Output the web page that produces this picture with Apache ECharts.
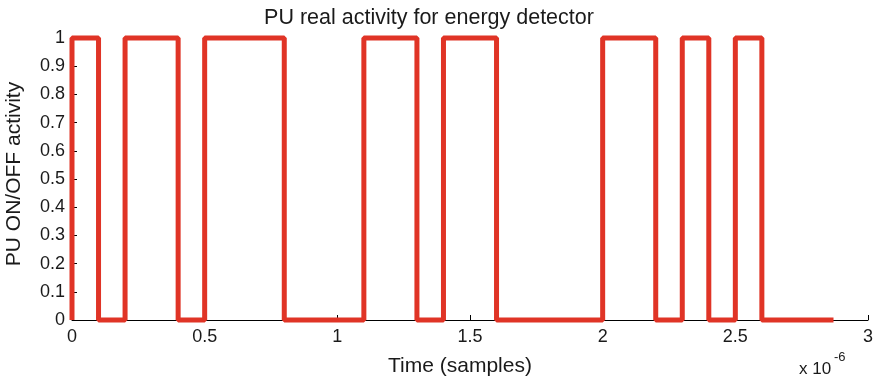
<!DOCTYPE html>
<html><head><meta charset="utf-8">
<script src="https://cdn.jsdelivr.net/npm/echarts@6/dist/echarts.min.js"></script>
<style>html,body{margin:0;padding:0;background:#fff}#c{width:878px;height:384px}</style>
</head><body><div id="c"></div>
<script>
// Times (x 10^-6) where the PU state changes, and the new state
const times = [0, 0, 0.1, 0.2, 0.4, 0.5, 0.8, 1.1, 1.3, 1.4, 1.6, 2.0, 2.2, 2.3, 2.4, 2.5, 2.6, 2.87];
const states = [0, 1, 0, 1, 0, 1, 0, 1, 0, 1, 0, 1, 0, 1, 0, 1, 0, 0];
const xTicks = [0, 0.5, 1, 1.5, 2, 2.5, 3];
const yTicks = [0, 0.1, 0.2, 0.3, 0.4, 0.5, 0.6, 0.7, 0.8, 0.9, 1];

const data = times.map((t, i) => [t, states[i]]);
const font = 'Liberation Sans, Arial, sans-serif';
const txt = '#1a1a1a';
const chart = echarts.init(document.getElementById('c'));
chart.setOption({
  animation: false,
  title: { text: 'PU real activity for energy detector', left: 424, top: 2, textAlign: 'center',
    textStyle: { fontFamily: font, fontSize: 21.5, fontWeight: 'normal', color: txt } },
  grid: { left: 72, right: 10, top: 38, bottom: 64, containLabel: false, outerBoundsMode: 'none' },
  xAxis: { type: 'value', min: 0, max: 3, interval: 0.5,
    name: 'Time (samples)', nameLocation: 'middle', nameGap: 36,
    nameTextStyle: { fontFamily: font, fontSize: 21, color: txt, padding: [0, 20, 0, 0] },
    axisLine: { lineStyle: { color: '#000', width: 1 } },
    axisTick: { inside: true, length: 5, lineStyle: { color: '#000' } },
    axisLabel: { fontFamily: font, fontSize: 18, color: txt, margin: 8 },
    splitLine: { show: false } },
  yAxis: { type: 'value', min: 0, max: 1, interval: 0.1,
    name: 'PU ON/OFF activity', nameLocation: 'middle', nameGap: 47, nameRotate: 90,
    nameTextStyle: { fontFamily: font, fontSize: 21, color: txt, padding: [0, 0, 0, 10] },
    axisLine: { show: true, lineStyle: { color: '#000', width: 1 } },
    axisTick: { show: true, inside: true, length: 5, lineStyle: { color: '#000' } },
    axisLabel: { fontFamily: font, fontSize: 18, color: txt, margin: 7,
      formatter: v => String(Math.round(v * 10) / 10) },
    splitLine: { show: false } },
  graphic: [
    { type: 'text', left: 799, top: 361, style: { text: 'x 10', fontFamily: font, fontSize: 17, fill: txt } },
    { type: 'text', left: 834, top: 351, style: { text: '-6', fontFamily: font, fontSize: 13, fill: txt } }
  ],
  series: [{ type: 'line', step: 'end', data: data, showSymbol: false, clip: false,
    lineStyle: { color: '#e03426', width: 5 }, z: 1 }]
});
</script></body></html>
